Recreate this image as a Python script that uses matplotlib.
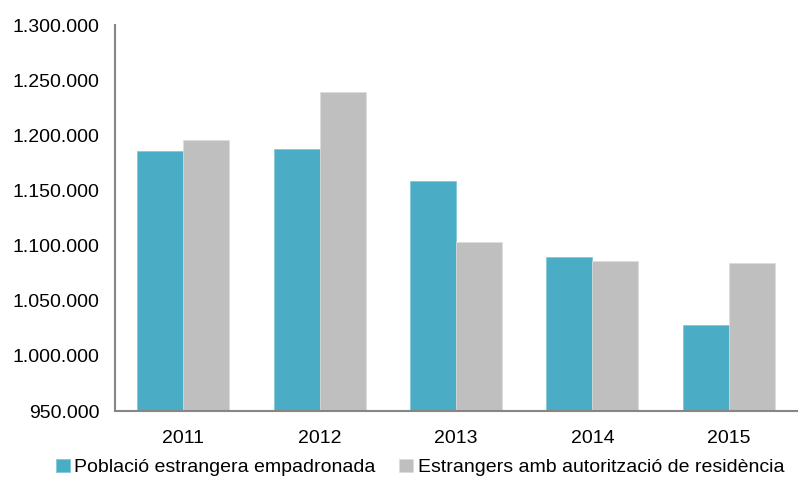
import matplotlib
matplotlib.use("Agg")
import matplotlib.pyplot as plt
import numpy as np
from matplotlib.ticker import FuncFormatter

plt.rcParams['font.family'] = ['Liberation Sans', 'DejaVu Sans']

years = ["2011", "2012", "2013", "2014", "2015"]
empadronada = [1185700, 1187300, 1158300, 1089400, 1027700]
autoritzacio = [1195700, 1239000, 1103200, 1086000, 1084500]
series_names = ["Població estrangera empadronada", "Estrangers amb autorització de residència"]
yticks = [950000, 1000000, 1050000, 1100000, 1150000, 1200000, 1250000, 1300000]

fig = plt.figure(figsize=(7.99, 4.78), dpi=100)
ax = fig.add_axes([115/799, 67/478, (797-115)/799, (411-25)/478])

x = np.arange(len(years))
w = 0.337
ax.bar(x - w/2, empadronada, w, color="#4BACC6", edgecolor="#7FC4D6", linewidth=0.5, label=series_names[0])
ax.bar(x + w/2, autoritzacio, w, color="#BFBFBF", edgecolor="#DCDCDC", linewidth=0.5, label=series_names[1])

ax.set_xlim(-0.5, len(years) - 0.5)
ax.set_ylim(950000, 1300000)
ax.set_yticks(yticks)
ax.yaxis.set_major_formatter(FuncFormatter(lambda v, p: f"{int(v):,}".replace(",", ".")))
ax.set_xticks(x)
ax.set_xticklabels(years)
ax.tick_params(axis='both', length=0, labelsize=14, colors="#000000")
ax.tick_params(axis='y', pad=11)
ax.tick_params(axis='x', pad=14)
for s in ["top", "right"]:
    ax.spines[s].set_visible(False)
for s in ["left", "bottom"]:
    ax.spines[s].set_color("#868686")
    ax.spines[s].set_linewidth(1.5)

fig.legend(loc="center", bbox_to_anchor=(420/799, 1 - 467.5/478), ncol=2, frameon=False,
           fontsize=14, handlelength=0.7, handleheight=0.7, handletextpad=0.25,
           columnspacing=1.2, borderaxespad=0)

fig.savefig("out.png", dpi=100)
